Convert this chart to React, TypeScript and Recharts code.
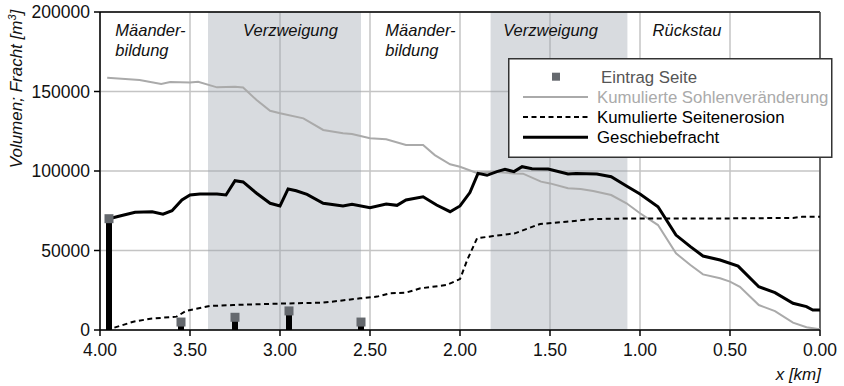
import React from 'react';
import {
  ComposedChart, Line, Bar, Scatter, XAxis, YAxis, CartesianGrid,
  ReferenceArea, ReferenceLine, ReferenceDot, Legend,
} from 'recharts';

// [x km, value m³]
const sohle: [number, number][] = [
  [3.96, 158700], [3.78, 157300], [3.66, 154800], [3.61, 156000], [3.5, 155600],
  [3.455, 156100], [3.35, 152600], [3.25, 153000], [3.205, 152500], [3.13, 144600],
  [3.055, 137900], [3.0, 136300], [2.87, 133100], [2.76, 125800], [2.65, 123700],
  [2.6, 123300], [2.5, 120600], [2.41, 119900], [2.3, 116300], [2.205, 116300],
  [2.14, 110000], [2.055, 104200], [2.0, 102700], [1.91, 98900], [1.815, 99600],
  [1.7, 98500], [1.65, 98300], [1.55, 93300], [1.5, 92200], [1.4, 89100],
  [1.33, 88700], [1.26, 87400], [1.16, 84900], [1.075, 79700], [1.0, 73400],
  [0.9, 66000], [0.8, 48200], [0.72, 40900], [0.65, 35000], [0.555, 32500],
  [0.5, 30400], [0.445, 27200], [0.34, 15700], [0.25, 11900], [0.15, 4600],
  [0.075, 1700], [0.0, 400],
];

const fracht: [number, number][] = [
  [3.95, 70000], [3.89, 71700], [3.805, 74000], [3.71, 74400], [3.65, 72800],
  [3.6, 75000], [3.545, 81800], [3.5, 84900], [3.445, 85500], [3.35, 85500],
  [3.3, 84900], [3.25, 93900], [3.205, 93100], [3.13, 86000], [3.055, 79700],
  [3.0, 78000], [2.955, 88700], [2.91, 87600], [2.85, 85300], [2.76, 79700],
  [2.65, 78000], [2.6, 79000], [2.5, 76900], [2.41, 79200], [2.35, 78400],
  [2.3, 81800], [2.205, 83800], [2.13, 78600], [2.055, 74400], [2.0, 78000],
  [1.945, 86400], [1.9, 98500], [1.85, 97300], [1.795, 99600], [1.75, 101000],
  [1.7, 99600], [1.655, 102700], [1.6, 101400], [1.51, 101200], [1.4, 98100],
  [1.355, 98500], [1.24, 98100], [1.16, 96400], [1.075, 90600], [1.0, 85500],
  [0.9, 77500], [0.8, 59700], [0.72, 52400], [0.65, 46500], [0.555, 44000],
  [0.455, 40200], [0.34, 27200], [0.25, 23500], [0.15, 16800], [0.075, 14700],
  [0.04, 12600], [0.0, 12600],
];

const erosion: [number, number][] = [
  [3.92, 1500], [3.815, 5200], [3.72, 7100], [3.575, 8400], [3.52, 12100],
  [3.39, 15100], [3.26, 15700], [3.0, 16600], [2.76, 17200], [2.63, 18900],
  [2.555, 19900], [2.46, 21000], [2.39, 23100], [2.3, 23500], [2.22, 26200],
  [2.075, 28300], [2.0, 32000], [1.96, 44000], [1.905, 57700], [1.815, 59100],
  [1.695, 60800], [1.555, 66700], [1.41, 68100], [1.26, 69800], [1.0, 70200],
  [0.5, 70200], [0.15, 70500], [0.1, 71200], [0.0, 71200],
];

const eintrag: [number, number][] = [
  [3.95, 70000], [3.55, 5000], [3.25, 8000], [2.95, 12000], [2.55, 5000],
];

const shadedZones: [number, number][] = [[3.4, 2.55], [1.83, 1.07]];

const zoneLabels: { x: number; lines: string[] }[] = [
  { x: 3.915, lines: ['Mäander-', 'bildung'] },
  { x: 3.205, lines: ['Verzweigung'] },
  { x: 2.415, lines: ['Mäander-', 'bildung'] },
  { x: 1.76, lines: ['Verzweigung'] },
  { x: 0.93, lines: ['Rückstau'] },
];

const xTicks = [4, 3.5, 3, 2.5, 2, 1.5, 1, 0.5, 0];
const yTicks = [0, 50000, 100000, 150000, 200000];

const legendItems = [
  { label: 'Eintrag Seite', kind: 'square', color: '#65696e', text: '#555' },
  { label: 'Kumulierte Sohlenveränderung', kind: 'line', color: '#aaaaaa', text: '#aaaaaa' },
  { label: 'Kumulierte Seitenerosion', kind: 'dash', color: '#000', text: '#000' },
  { label: 'Geschiebefracht', kind: 'thick', color: '#000', text: '#000' },
];

type Row = { x: number; sohle?: number; fracht?: number; erosion?: number; eintrag?: number };
const table: Row[] = (() => {
  const map = new Map<number, Row>();
  const add = (arr: [number, number][], key: keyof Row) => {
    arr.forEach(([x, v]) => {
      const r = map.get(x) || { x };
      (r as any)[key] = v;
      map.set(x, r);
    });
  };
  add(sohle, 'sohle');
  add(fracht, 'fracht');
  add(erosion, 'erosion');
  add(eintrag, 'eintrag');
  return Array.from(map.values()).sort((a, b) => b.x - a.x);
})();
const eintragData = eintrag.map(([x, v]) => ({ x, eintrag: v }));

const FONT = '"Liberation Sans", Arial, Helvetica, sans-serif';
const FS = 17;
const ZFS = 16.5;
const LFS = 16.8;
const TFS = 17.5;

const SquareShape = (p: any) => {
  const s = 9;
  return <rect x={p.cx - s / 2} y={p.cy - s / 2} width={s} height={s} fill="#65696e" />;
};

const ThickBar = (p: any) => {
  if (p.height == null || !isFinite(p.height)) return null;
  const w = 6;
  return <rect x={p.x + p.width / 2 - w / 2} y={p.y} width={w} height={p.height} fill="#000" />;
};

const LegendBox = () => (
  <svg width={326} height={101} style={{ display: 'block', overflow: 'visible' }}>
    <rect x={0.75} y={0.75} width={323} height={98.5} fill="#fff" stroke="#333" strokeWidth={1.5} />
    {legendItems.map((it, i) => {
      const cy = 18.7 + i * 20.2;
      let sw: React.ReactNode = null;
      if (it.kind === 'square') sw = <rect x={44} y={cy - 4} width={8} height={8} fill={it.color} />;
      else if (it.kind === 'line') sw = <line x1={15} x2={80} y1={cy} y2={cy} stroke={it.color} strokeWidth={2} />;
      else if (it.kind === 'dash') sw = <line x1={15} x2={80} y1={cy} y2={cy} stroke={it.color} strokeWidth={2} strokeDasharray="5 3.5" />;
      else sw = <line x1={15} x2={80} y1={cy} y2={cy} stroke={it.color} strokeWidth={3} />;
      return (
        <g key={it.label}>
          {sw}
          <text x={i === 0 ? 93 : 89} y={cy} dy="0.35em" fill={it.text} fontSize={LFS} fontFamily={FONT}>
            {it.label}
          </text>
        </g>
      );
    })}
  </svg>
);

const makeZoneLabel = (lines: string[]) => (props: any) => {
  const vb = props.viewBox || {};
  const x = vb.x + (vb.width || 0) / 2;
  const y = vb.y + (vb.height || 0) / 2;
  return (
    <g>
      {lines.map((l, i) => (
        <text key={i} x={x} y={y + 24 + i * 19.5} fontStyle="italic" fontSize={ZFS} fontFamily={FONT} fill="#111">
          {l}
        </text>
      ))}
    </g>
  );
};

const YTitle = () => (
  <text transform="translate(22, 89) rotate(-90)" textAnchor="middle" fontStyle="italic" fontSize={FS} fontFamily={FONT} fill="#111">
    Volumen; Fracht [m<tspan dy="-6" fontSize={11}>3</tspan><tspan dy="6">]</tspan>
  </text>
);

const XTitle = () => (
  <text x={821} y={380} textAnchor="end" fontStyle="italic" fontSize={FS} fontFamily={FONT} fill="#111">
    x [km]
  </text>
);

export default function App() {
  return (
    <div style={{ position: 'absolute', left: 0, top: 0, width: 844, height: 386, background: '#fff', fontFamily: FONT }}>
      <ComposedChart
        width={844}
        height={386}
        data={table}
        margin={{ top: 12, right: 24, bottom: 26, left: 40 }}
      >
        <CartesianGrid stroke="#c4c4c4" strokeWidth={1.5} />
        {shadedZones.map(([a, b], i) => (
          <ReferenceArea key={i} x1={a} x2={b} y1={0} y2={200000} fill="#9ea6ae" fillOpacity={0.4} stroke="none" />
        ))}
        <XAxis
          dataKey="x"
          type="number"
          domain={[0, 4]}
          reversed
          ticks={xTicks}
          tickFormatter={(v: number) => v.toFixed(2)}
          tick={{ fontSize: TFS, fill: '#111', fontFamily: FONT }}
          tickSize={6}
          tickMargin={8}
          axisLine={{ stroke: '#000', strokeWidth: 1.5 }}
          tickLine={{ stroke: '#000', strokeWidth: 1.5 }}
          height={30}
          allowDataOverflow
          label={<XTitle />}
        />
        <YAxis
          type="number"
          domain={[0, 200000]}
          ticks={yTicks}
          tick={{ fontSize: TFS, fill: '#111', fontFamily: FONT }}
          tickSize={6}
          tickMargin={4}
          width={60}
          axisLine={{ stroke: '#000', strokeWidth: 1.5 }}
          tickLine={{ stroke: '#000', strokeWidth: 1.5 }}
          allowDataOverflow
          label={<YTitle />}
        />
        <ReferenceLine y={200000} stroke="#000" strokeWidth={1.5} />
        <ReferenceLine x={0} stroke="#444" strokeWidth={1.5} />
        {zoneLabels.map((z, i) => (
          <ReferenceDot key={i} x={z.x} y={200000} r={0} fill="none" stroke="none" label={{ content: makeZoneLabel(z.lines) }} />
        ))}
        <Bar dataKey="eintrag" fill="#000" shape={<ThickBar />} isAnimationActive={false} />
        <Line dataKey="sohle" stroke="#aaaaaa" strokeWidth={2} dot={false} connectNulls isAnimationActive={false} />
        <Line dataKey="erosion" stroke="#000" strokeWidth={2} strokeDasharray="5 3.5" dot={false} connectNulls isAnimationActive={false} />
        <Line dataKey="fracht" stroke="#000" strokeWidth={3} dot={false} connectNulls isAnimationActive={false} />
        <Scatter data={eintragData} dataKey="eintrag" shape={<SquareShape />} isAnimationActive={false} />
        <Legend
          layout="horizontal"
          verticalAlign="middle"
          align="center"
          content={() => <LegendBox />}
          wrapperStyle={{ position: 'absolute', left: 508, top: 58, width: 326, height: 101, margin: 0 }}
        />
      </ComposedChart>
    </div>
  );
}
